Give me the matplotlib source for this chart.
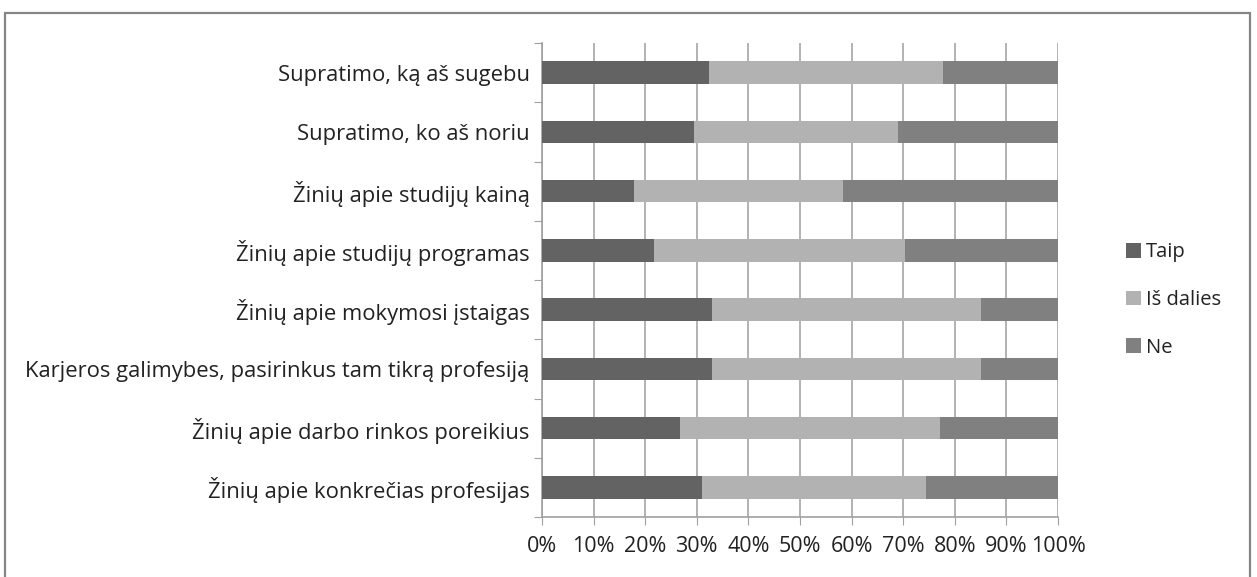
import numpy as np
import matplotlib.pyplot as plt
from matplotlib.patches import Rectangle

# -----------------------------
# Data
# -----------------------------
categories = [
    "Supratimo, ką aš sugebu",
    "Supratimo, ko aš noriu",
    "Žinių apie studijų kainą",
    "Žinių apie studijų programas",
    "Žinių apie mokymosi įstaigas",
    "Karjeros galimybes, pasirinkus tam tikrą profesiją",
    "Žinių apie darbo rinkos poreikius",
    "Žinių apie konkrečias profesijas",
]
taip = [32.4, 29.4, 17.8, 21.7, 32.9, 32.9, 26.7, 31.0]
is_dalies = [45.4, 39.6, 40.5, 48.7, 52.2, 52.2, 50.4, 43.4]
ne = [100 - a - b for a, b in zip(taip, is_dalies)]

series_names = ["Taip", "Iš dalies", "Ne"]
colors = ["#636363", "#b2b2b2", "#808080"]
xticks = np.arange(0, 101, 10)
xlabels = [f"{v}%" for v in xticks]

plt.rcParams['font.family'] = ['Open Sans', 'DejaVu Sans']
fs = 15.8
W, H = 1257, 577

fig = plt.figure(figsize=(W / 100, H / 100), dpi=100)
ax = fig.add_axes([542 / W, (H - 517) / H, 516 / W, 474 / H])

# -----------------------------
# Bars
# -----------------------------
y = np.arange(len(categories))
left = np.zeros(len(categories))
for vals, name, c in zip([taip, is_dalies, ne], series_names, colors):
    ax.barh(y, vals, left=left, height=0.38, color=c, label=name, zorder=3)
    left += np.array(vals)

ax.set_xlim(0, 100)
ax.set_ylim(len(categories) - 0.5, -0.5)

# category labels at centers, tick marks at boundaries
ax.set_yticks(np.arange(-0.5, len(categories)), minor=False)
ax.set_yticklabels([])
ax.set_yticks(y, minor=True)
ax.set_yticklabels(categories, minor=True, fontsize=fs, color="#222222")
ax.tick_params(axis="y", which="minor", length=0, pad=9)
ax.tick_params(axis="y", which="major", length=6, color="#a0a0a0", direction="out")

ax.set_xticks(xticks)
ax.set_xticklabels(xlabels, fontsize=15.5, color="#222222")
ax.tick_params(axis="x", length=6, color="#a0a0a0", pad=8)

ax.grid(axis="x", color="#a6a6a6", lw=1.2, zorder=0)
for s in ["top", "right"]:
    ax.spines[s].set_visible(False)
for s in ["left", "bottom"]:
    ax.spines[s].set_color("#a0a0a0")
    ax.spines[s].set_linewidth(1.2)

leg = fig.legend(loc="center left", bbox_to_anchor=(1116 / W, 1 - 300 / H),
                 frameon=False, fontsize=14.5, handlelength=0.75, handleheight=0.75,
                 handletextpad=0.25, labelspacing=1.38, borderpad=0)
for t in leg.get_texts():
    t.set_color("#222222")

# outer chart border
fig.patches.append(Rectangle((5 / W, -0.05), 1245 / W, 1.05 - 13 / H,
                             transform=fig.transFigure, fill=False,
                             edgecolor="#868686", lw=1.6))

fig.savefig("out.png", dpi=100)
